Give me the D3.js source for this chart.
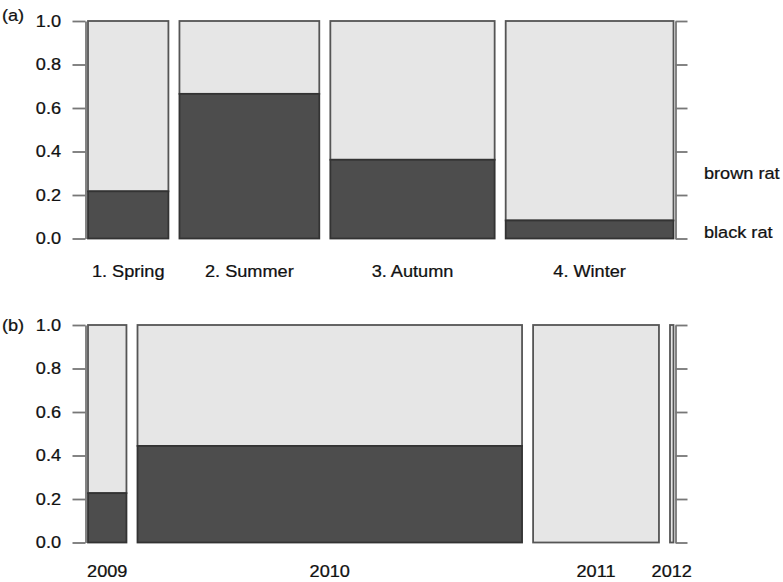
<!DOCTYPE html>
<html>
<head>
<meta charset="utf-8">
<script src="https://cdn.jsdelivr.net/npm/d3@7.9.0/dist/d3.min.js"></script>
<style>
  body { margin: 0; background: #fff; }
  svg { display: block; }
  text { font-family: "Liberation Sans", Arial, Helvetica, sans-serif; font-size: 16.5px; fill: #111; stroke: #111; stroke-width: 0.25px; }
</style>
</head>
<body>
<svg id="chart" width="783" height="582"></svg>
<script>
// (a) by season
const seasons = ['1. Spring', '2. Summer', '3. Autumn', '4. Winter'];
const seasonCounts = [23, 40, 47, 48];
const seasonBlack = [0.217, 0.665, 0.362, 0.083];

// (b) by year
const years = ['2009', '2010', '2011', '2012'];
const yearCounts = [11, 110, 36, 1];
const yearBlack = [0.227, 0.444, 0, 0];

const species = ['black rat', 'brown rat'];
const yTicks = [0, 0.2, 0.4, 0.6, 0.8, 1.0];

const sx = 1.1; // the original glyphs are a bit wider than Helvetica
const svg = d3.select('#chart');

function stretchText(sel) {
  sel.selectAll('text')
    .attr('x', function () { return +this.getAttribute('x') / sx; })
    .attr('transform', `scale(${sx},1)`);
}

function drawPanel(tag, labels, counts, black, top, bottom, labelBase, tagBase, showSpecies) {
  const n = labels.length;
  const off = 0.02;
  const total = d3.sum(counts);
  const x = d3.scaleLinear().domain([0, 1 + off * (n - 1)]).range([88, 673.5]);
  const y = d3.scaleLinear().domain([0, 1]).range([bottom, top]);

  // bar positions, spineplot style
  let pos = 0;
  const bars = counts.map((c, i) => {
    const w = c / total;
    const b = { x0: pos, x1: pos + w, f: black[i], label: labels[i] };
    pos += w + off;
    return b;
  });

  const g = svg.append('g');

  // left axis
  const left = g.append('g')
    .attr('transform', 'translate(85.5,0)')
    .call(d3.axisLeft(y).tickValues(yTicks).tickFormat(d3.format('.1f'))
      .tickSize(13).tickSizeOuter(0).tickPadding(11.5));
  left.selectAll('path, line').attr('stroke', '#777').attr('stroke-width', 1.8);
  left.selectAll('text').attr('font-size', null).attr('font-family', null).attr('fill', null);
  stretchText(left);

  // right axis
  const right = g.append('g')
    .attr('transform', 'translate(675.5,0)')
    .call(d3.axisRight(y).tickValues(yTicks).tickFormat('').tickSize(12).tickSizeOuter(0));
  right.selectAll('path, line').attr('stroke', '#777').attr('stroke-width', 1.8);

  // light (brown rat) part
  g.selectAll('rect.brown').data(bars).join('rect')
    .attr('class', 'brown')
    .attr('x', d => x(d.x0))
    .attr('width', d => x(d.x1) - x(d.x0))
    .attr('y', y(1))
    .attr('height', d => y(d.f) - y(1))
    .attr('fill', '#e6e6e6')
    .attr('stroke', '#555')
    .attr('stroke-width', 1.8);

  // dark (black rat) part
  g.selectAll('rect.black').data(bars).join('rect')
    .attr('class', 'black')
    .attr('x', d => x(d.x0))
    .attr('width', d => x(d.x1) - x(d.x0))
    .attr('y', d => y(d.f))
    .attr('height', d => y(0) - y(d.f))
    .attr('fill', '#4d4d4d')
    .attr('stroke', '#333')
    .attr('stroke-width', 1.8);

  // category labels
  g.selectAll('text.cat').data(bars).join('text')
    .attr('class', 'cat')
    .attr('text-anchor', 'middle')
    .attr('transform', d => `translate(${x((d.x0 + d.x1) / 2)},${labelBase}) scale(${sx},1)`)
    .text(d => d.label);

  // panel tag
  g.append('text')
    .attr('transform', `translate(2,${tagBase}) scale(${sx},1)`)
    .text(tag);

  if (showSpecies) {
    const labelAt = [0.03, 0.30];
    g.selectAll('text.sp').data(species).join('text')
      .attr('class', 'sp')
      .attr('transform', (d, i) => `translate(704,${y(labelAt[i])}) scale(${sx},1)`)
      .attr('dy', '0.36em')
      .text(d => d);
  }
}

drawPanel('(a)', seasons, seasonCounts, seasonBlack, 21, 238.5, 277, 20.5, true);
drawPanel('(b)', years, yearCounts, yearBlack, 325, 542.5, 577, 331, false);
</script>
</body>
</html>
